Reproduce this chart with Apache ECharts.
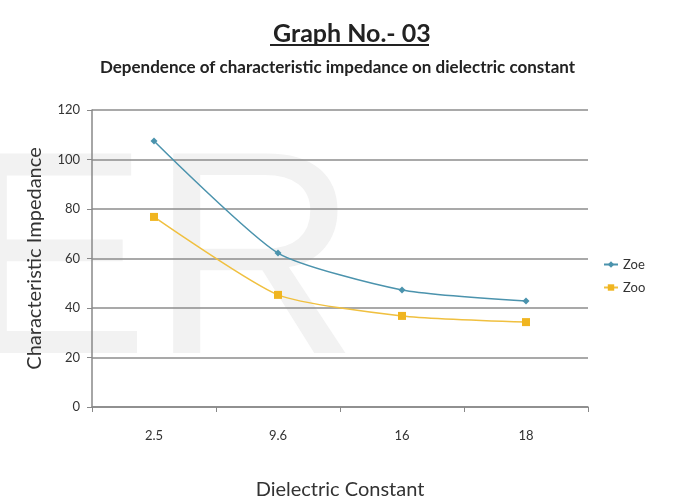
<!DOCTYPE html>
<html><head><meta charset="utf-8">
<script src="https://cdn.jsdelivr.net/npm/echarts@6/dist/echarts.min.js"></script>
<style>html,body{margin:0;padding:0;background:#fff}#c{width:675px;height:502px}</style>
</head><body><div id="c"></div>
<script>
const categories = ['2.5', '9.6', '16', '18'];
const zoe = [107.5, 62.2, 47.3, 42.8];
const zoo = [76.8, 45.3, 36.8, 34.3];
const yTicks = [0, 20, 40, 60, 80, 100, 120];

const FONT = 'Lato';
const chart = echarts.init(document.getElementById('c'));
chart.setOption({
  backgroundColor: '#fff',
  animation: false,
  textStyle: { fontFamily: FONT },
  title: [
    { text: 'Graph No.- 03', left: 268, top: 16,
      textStyle: { fontFamily: FONT, fontSize: 25, fontWeight: 'bold', color: '#222' } },
    { text: 'Dependence of characteristic impedance on dielectric constant', left: 'center', top: 54,
      textStyle: { fontFamily: FONT, fontSize: 17, fontWeight: 'bold', color: '#222' } }
  ],
  graphic: [
    { type: 'text', z: -10, left: -44, top: 128, style: { text: 'ER', font: '290px "Liberation Sans"', fill: '#f2f2f2' } },
    { type: 'line', z: 10, shape: { x1: 270, y1: 45, x2: 429, y2: 45 }, style: { stroke: '#222', lineWidth: 2 } }
  ],
  legend: {
    orient: 'vertical', left: 598, top: 253, itemGap: 10, itemWidth: 14, itemHeight: 8,
    textStyle: { fontFamily: FONT, fontSize: 13, color: '#333' },
    data: ['Zoe', 'Zoo']
  },
  grid: { left: 92, right: 87, top: 110, bottom: 95, outerBoundsMode: 'none' },
  xAxis: {
    type: 'category', data: categories, boundaryGap: true,
    name: 'Dielectric Constant', nameLocation: 'middle', nameGap: 73,
    nameTextStyle: { fontFamily: FONT, fontSize: 20, color: '#333' },
    axisLine: { lineStyle: { color: '#888', width: 1.5 } },
    axisTick: { show: true, lineStyle: { color: '#888' }, length: 5, inside: false },
    axisLabel: { fontFamily: FONT, fontSize: 13, color: '#333', margin: 22 }
  },
  yAxis: {
    type: 'value', min: 0, max: 120, interval: 20,
    name: 'Characteristic Impedance', nameLocation: 'middle', nameGap: 47,
    nameTextStyle: { fontFamily: FONT, fontSize: 20, color: '#333' },
    axisLine: { show: true, lineStyle: { color: '#888', width: 1.5 } },
    axisTick: { show: true, length: 5, lineStyle: { color: '#888' } },
    axisLabel: { fontFamily: FONT, fontSize: 13, color: '#333', margin: 12,
      formatter: v => yTicks.includes(v) ? String(v) : '' },
    splitLine: { lineStyle: { color: '#8c8c8c', width: 1.5 } }
  },
  series: [
    { name: 'Zoe', type: 'line', data: zoe, smooth: 0.2, symbol: 'diamond', symbolSize: 7,
      itemStyle: { color: '#4b93ad' }, lineStyle: { color: '#4b93ad', width: 1.5 } },
    { name: 'Zoo', type: 'line', data: zoo, smooth: 0.2, symbol: 'rect', symbolSize: 8,
      itemStyle: { color: '#f0b520' }, lineStyle: { color: '#f0c040', width: 1.5 } }
  ]
});
</script></body></html>
